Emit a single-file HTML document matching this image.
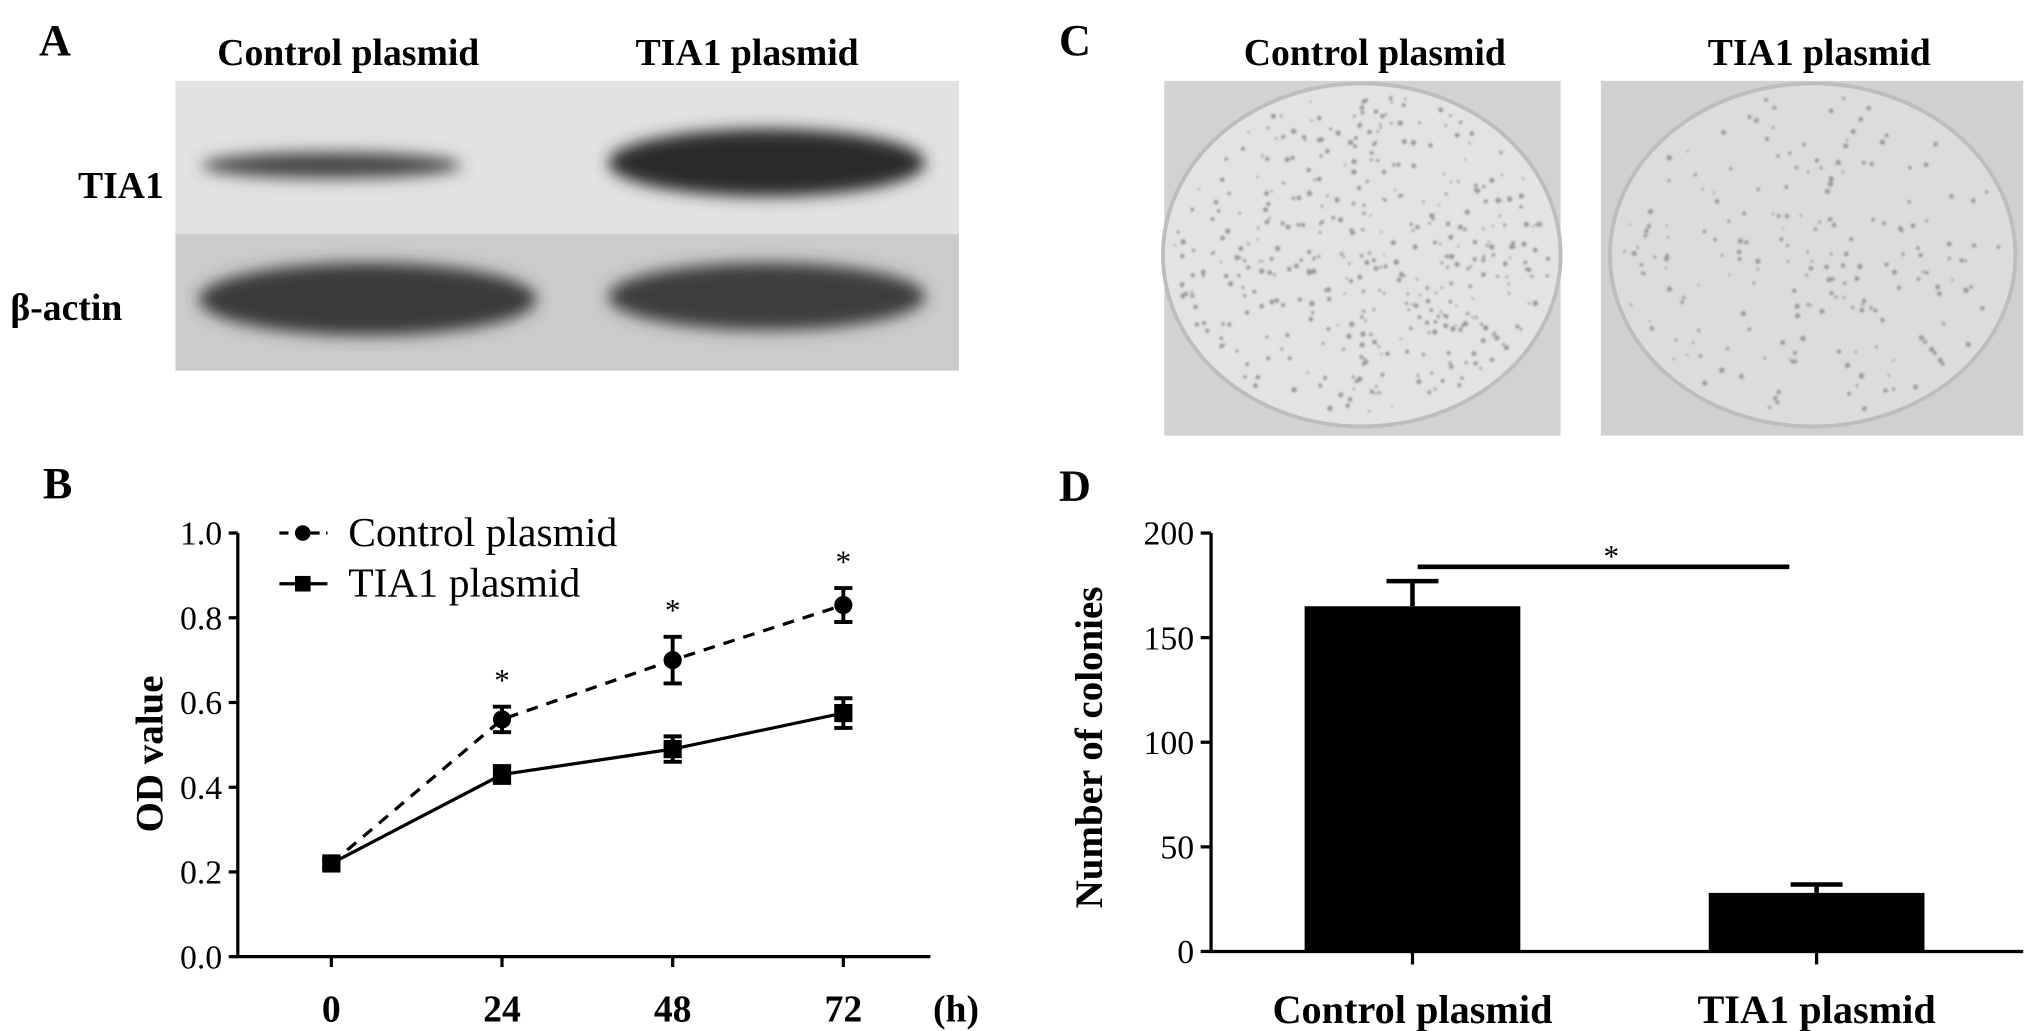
<!DOCTYPE html>
<html><head><meta charset="utf-8"><style>
html,body{margin:0;padding:0;background:#fff;}
svg{display:block;font-family:"Liberation Serif",serif;}
</style></head><body>
<svg id="fig" width="2031" height="1031" viewBox="0 0 1563 793" xmlns="http://www.w3.org/2000/svg">
<defs>
<filter id="blur6"><feGaussianBlur stdDeviation="6"/></filter>
<filter id="blur2"><feGaussianBlur stdDeviation="0.8"/></filter>
</defs>
<!-- Panel A -->
<g>
<text x="30" y="42" font-size="34" font-weight="bold">A</text>
<text x="268" y="50" font-size="29" font-weight="bold" text-anchor="middle">Control plasmid</text>
<text x="575" y="50" font-size="29" font-weight="bold" text-anchor="middle">TIA1 plasmid</text>
<text x="60" y="152" font-size="29" font-weight="bold">TIA1</text>
<text x="8" y="246" font-size="29" font-weight="bold">β-actin</text>
<rect x="135" y="62" width="603" height="118" fill="#e2e2e2"/>
<rect x="135" y="180" width="603" height="105" fill="#cbcbcb"/>
<g filter="url(#blur6)">
<ellipse cx="255" cy="127" rx="100" ry="10" fill="#444"/>
<ellipse cx="590" cy="125" rx="122" ry="26" fill="#2a2a2a"/>
<ellipse cx="283" cy="230" rx="130" ry="28" fill="#3a3a3a"/>
<ellipse cx="590" cy="228" rx="122" ry="26" fill="#3c3c3c"/>
</g>
</g>
<!-- Panel C -->
<g>
<text x="815" y="42" font-size="34" font-weight="bold">C</text>
<text x="1058" y="50" font-size="29" font-weight="bold" text-anchor="middle">Control plasmid</text>
<text x="1400" y="50" font-size="29" font-weight="bold" text-anchor="middle">TIA1 plasmid</text>
<rect x="896" y="62" width="305" height="273" fill="#d2d2d2"/>
<ellipse cx="1048" cy="196" rx="153" ry="132" fill="#e3e3e3" stroke="#bdbdbd" stroke-width="3"/>
<rect x="1232" y="62" width="325" height="273" fill="#d0d0d0"/>
<ellipse cx="1395" cy="196" rx="156" ry="132" fill="#dcdcdc" stroke="#bdbdbd" stroke-width="3"/>
<g id="dots" fill="#999" filter="url(#blur2)"></g>
</g>
<!-- Panel B -->
<g id="chartB">
<text x="33" y="383" font-size="34" font-weight="bold">B</text>
<text transform="translate(125,580) rotate(-90)" font-size="30" font-weight="bold" text-anchor="middle">OD value</text>
<g>
<line x1="215" y1="410" x2="252" y2="410" stroke="#000" stroke-width="2.5" stroke-dasharray="7,5"/>
<circle cx="233" cy="410" r="6" fill="#000"/>
<text x="268" y="420" font-size="32">Control plasmid</text>
<line x1="215" y1="449" x2="252" y2="449" stroke="#000" stroke-width="2.5"/>
<rect x="227" y="443" width="12" height="12" fill="#000"/>
<text x="268" y="459" font-size="32">TIA1 plasmid</text>
</g>
</g>
<!-- Panel D -->
<g id="chartD">
<text x="815" y="385" font-size="34" font-weight="bold">D</text>
<text transform="translate(848,575) rotate(-90)" font-size="30" font-weight="bold" text-anchor="middle">Number of colonies</text>
</g>
</svg>
<script>
// Chart B data
const hours = [0, 24, 48, 72];
const hourLabels = ["0", "24", "48", "72"];
const controlOD = [0.22, 0.56, 0.70, 0.83];
const controlErr = [0.01, 0.03, 0.055, 0.04];
const tia1OD = [0.22, 0.43, 0.49, 0.575];
const tia1Err = [0.01, 0.02, 0.03, 0.035];
const odTicks = [0, 0.2, 0.4, 0.6, 0.8, 1.0];
const odTickLabels = ["0.0", "0.2", "0.4", "0.6", "0.8", "1.0"];
const sigB = [false, true, true, true];
// Chart D data
const groups = ["Control plasmid", "TIA1 plasmid"];
const colonies = [165, 28];
const colonyErr = [12, 4];
const colonyTicks = [0, 50, 100, 150, 200];

const NS = "http://www.w3.org/2000/svg";
function mk(parent, tag, attrs, text) {
  const e = document.createElementNS(NS, tag);
  for (const k in attrs) e.setAttribute(k, attrs[k]);
  if (text !== undefined) e.textContent = text;
  parent.appendChild(e);
  return e;
}

// Chart B
(function () {
  const g = document.getElementById('chartB');
  const xB = h => 255 + (h / 72) * (649 - 255);
  const yB = v => 736 - v * (736 - 410);
  let e = mk(g, 'line', { x1: 183, y1: 410, x2: 183, y2: 737, stroke: '#000', 'stroke-width': 2.5 });
  
  
  e = mk(g, 'line', { x1: 182, y1: 736, x2: 716, y2: 736, stroke: '#000', 'stroke-width': 2.5 });
  
  
  odTicks.forEach((v, i) => {
    mk(g, 'line', { x1: 176, y1: yB(v), x2: 183, y2: yB(v), stroke: '#000', 'stroke-width': 2.5 });
    const t = mk(g, 'text', { x: 171, y: yB(v) + 9, 'font-size': 26, 'text-anchor': 'end' }, odTickLabels[i]);
    
    
  });
  hours.forEach((h, i) => {
    mk(g, 'line', { x1: xB(h), y1: 736, x2: xB(h), y2: 744, stroke: '#000', 'stroke-width': 2.5 });
    const t = mk(g, 'text', { x: xB(h), y: 786, 'font-size': 29, 'font-weight': 'bold', 'text-anchor': 'middle' }, hourLabels[i]);
    
    
  });
  const u = mk(g, 'text', { x: 718, y: 786, 'font-size': 29, 'font-weight': 'bold' }, '(h)');
  
  
  const pc = hours.map((h, i) => xB(h) + ',' + yB(controlOD[i])).join(' ');
  e = mk(g, 'polyline', { points: pc, fill: 'none', stroke: '#000', 'stroke-width': 2.5, 'stroke-dasharray': '9,7' });
  
  
  const pt = hours.map((h, i) => xB(h) + ',' + yB(tia1OD[i])).join(' ');
  e = mk(g, 'polyline', { points: pt, fill: 'none', stroke: '#000', 'stroke-width': 2.5 });
  
  
  function err(x, v, d) {
    const p = `M${x},${yB(v + d)}V${yB(v - d)}M${x - 7},${yB(v + d)}h14M${x - 7},${yB(v - d)}h14`;
    const el = mk(g, 'path', { d: p, stroke: '#000', 'stroke-width': 3, fill: 'none' });
    
    
  }
  hours.forEach((h, i) => {
    err(xB(h), controlOD[i], controlErr[i]);
    err(xB(h), tia1OD[i], tia1Err[i]);
    const s = mk(g, 'rect', { x: xB(h) - 7, y: yB(tia1OD[i]) - 7, width: 14, height: 14, fill: '#000' });
    
    
    const c = mk(g, 'circle', { cx: xB(h), cy: yB(controlOD[i]), r: 7, fill: '#000' });
    
    
    if (sigB[i]) {
      const st = mk(g, 'text', { x: xB(h), y: yB(controlOD[i] + controlErr[i]) - 12, 'font-size': 24, 'text-anchor': 'middle' }, '*');
      
      
    }
  });
})();

// Chart D
(function () {
  const g = document.getElementById('chartD');
  const yD = v => 732 - (v / 200) * (732 - 410);
  const centers = [1087, 1398];
  const bw = 166;
  let e = mk(g, 'line', { x1: 932, y1: 410, x2: 932, y2: 733, stroke: '#000', 'stroke-width': 2.5 });
  
  
  e = mk(g, 'line', { x1: 931, y1: 732, x2: 1557, y2: 732, stroke: '#000', 'stroke-width': 2.5 });
  
  
  colonyTicks.forEach(v => {
    mk(g, 'line', { x1: 924, y1: yD(v), x2: 932, y2: yD(v), stroke: '#000', 'stroke-width': 2.5 });
    const t = mk(g, 'text', { x: 919, y: yD(v) + 9, 'font-size': 26, 'text-anchor': 'end' }, String(v));
    
    
  });
  groups.forEach((name, i) => {
    const cx = centers[i];
    const v = colonies[i], d = colonyErr[i];
    const ep = mk(g, 'path', { d: `M${cx},${yD(v)}V${yD(v + d)}M${cx - 20},${yD(v + d)}h40`, stroke: '#000', 'stroke-width': 3.5, fill: 'none' });
    
    
    const b = mk(g, 'rect', { x: cx - bw / 2, y: yD(v), width: bw, height: yD(0) - yD(v), fill: '#000' });
    
    
    mk(g, 'line', { x1: cx, y1: 732, x2: cx, y2: 742, stroke: '#000', 'stroke-width': 2.5 });
    const t = mk(g, 'text', { x: cx, y: 787, 'font-size': 31, 'font-weight': 'bold', 'text-anchor': 'middle' }, name);
    
    
  });
  const sl = mk(g, 'line', { x1: 1091, y1: 436, x2: 1377, y2: 436, stroke: '#000', 'stroke-width': 3.5 });
  
  
  const st = mk(g, 'text', { x: 1240, y: 436, 'font-size': 24, 'text-anchor': 'middle' }, '*');
  
  
})();

// colony dots (decorative texture on plate photos)
(function () {
  const g = document.getElementById('dots');
  let seed = 7;
  const rnd = () => { seed = (seed * 9301 + 49297) % 233280; return seed / 233280; };
  [[1048, 196, 145, 124, 420], [1395, 196, 148, 124, 200]].forEach(p => {
    for (let k = 0; k < p[4]; k++) {
      const a = rnd() * Math.PI * 2, r = Math.sqrt(rnd());
      mk(g, 'circle', { cx: p[0] + Math.cos(a) * r * p[2], cy: p[1] + Math.sin(a) * r * p[3], r: 0.8 + rnd() * 1.3 });
    }
  });
})();
</script>
</body></html>
